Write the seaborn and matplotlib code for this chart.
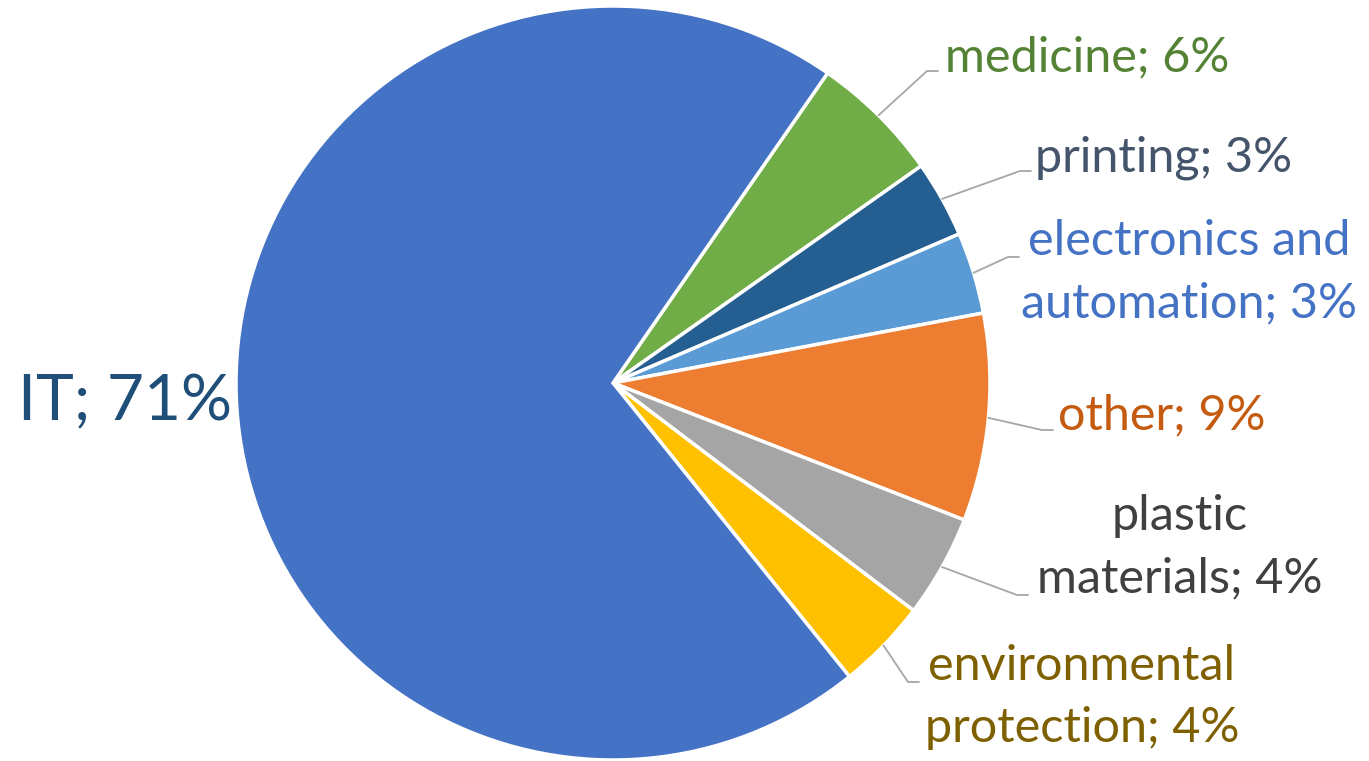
import numpy as np
import matplotlib
matplotlib.use('Agg')
import matplotlib.pyplot as plt
import seaborn as sns

# slices in clockwise order, starting at the medicine wedge
categories = ['medicine', 'printing', 'electronics and\nautomation', 'other',
              'plastic\nmaterials', 'environmental\nprotection', 'IT']
shares = [5.6, 3.3, 3.5, 8.9, 4.4, 3.9, 70.5]
pct_labels = ['6%', '3%', '3%', '9%', '4%', '4%', '71%']

colors = ['#70AD47', '#255E91', '#5B9BD5', '#ED7D31', '#A5A5A5', '#FFC000', '#4472C4']
text_colors = ['#548235', '#44546A', '#4472C4', '#C55A11', '#404040', '#7F6000', '#1F4E79']

sns.set_theme(style='white')
plt.rcParams['font.family'] = ['Lato', 'DejaVu Sans']

W, H = 1369, 761
CX, CY, R = 613, 383, 377


def px(x, y):
    return (x - CX) / R, (CY - y) / R


fig = plt.figure(figsize=(W / 100, H / 100), dpi=100)
ax = fig.add_axes([0, 0, 1, 1])

wedges, _ = ax.pie(shares, colors=colors, startangle=90 - 34.7, counterclock=False,
                   radius=1, center=(0, 0),
                   wedgeprops=dict(edgecolor='white', linewidth=2.5))

# label layout in pixels: (elbow x, elbow y, text x, text y, ha)
layout = [
    (927, 71, 945, 57, 'left'),
    (1020, 171, 1035, 158, 'left'),
    (1008, 257, 1189, 272, 'center'),
    (1042, 430, 1058, 415, 'left'),
    (1017, 595, 1180, 547, 'center'),
    (908, 682, 1082, 697, 'center'),
]

for i, w in enumerate(wedges):
    label = f"{categories[i]}; {pct_labels[i]}"
    if i == len(wedges) - 1:
        tx, ty = px(232, 402)
        ax.text(tx, ty, label, ha='right', va='center', fontsize=46,
                color=text_colors[i])
        continue
    ang = np.deg2rad((w.theta1 + w.theta2) / 2)
    sx, sy = np.cos(ang), np.sin(ang)
    ex, ey, tx, ty, ha = layout[i]
    exd, eyd = px(ex, ey)
    hx, _ = px(ex + 11, ey)
    ax.plot([sx, exd, hx], [sy, eyd, eyd], color='#A6A6A6', lw=1.3)
    txd, tyd = px(tx, ty)
    ax.text(txd, tyd, label, ha=ha, va='center', fontsize=35,
            color=text_colors[i], linespacing=1.5, multialignment='center')

ax.set_xlim(-CX / R, (W - CX) / R)
ax.set_ylim((CY - H) / R, CY / R)
ax.set_aspect('equal')
ax.axis('off')

fig.savefig('out.png', dpi=100)
